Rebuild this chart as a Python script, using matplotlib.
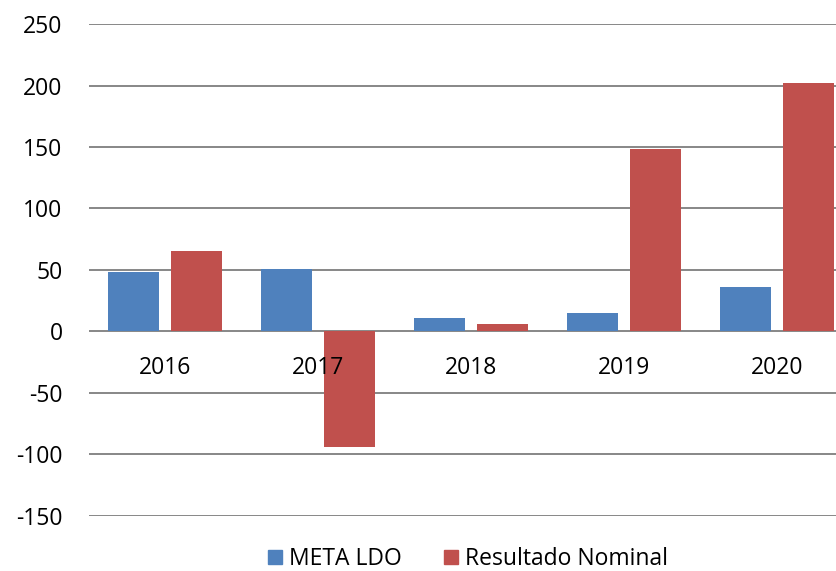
import matplotlib.pyplot as plt
import numpy as np
from matplotlib.patches import Patch

years = ["2016", "2017", "2018", "2019", "2020"]
meta_ldo = [48, 51, 11, 15, 36]
resultado_nominal = [65, -94, 6, 148, 202]

BLUE = "#4F81BD"
RED = "#C0504D"
GRID = "#878787"
FS = 16.5

plt.rcParams["font.family"] = ["Open Sans", "DejaVu Sans"]
plt.rcParams["axes.unicode_minus"] = False

fig = plt.figure(figsize=(8.36, 5.71), dpi=100)
# plot area runs a little past the right edge of the canvas
ax = fig.add_axes([0.106, 0.0968, 0.915, 0.861])

x = np.arange(len(years))
w = 0.333
off = 0.207
ax.bar(x - off, meta_ldo, w, color=BLUE, zorder=3)
ax.bar(x + off, resultado_nominal, w, color=RED, zorder=3)

ax.set_xlim(-0.5, len(years) - 0.5)
ax.set_ylim(-150, 250)
ax.set_yticks(np.arange(-150, 251, 50))
ax.yaxis.grid(True, color=GRID, linewidth=1.4)
ax.yaxis.set_zorder(0.5)
# category labels sit on top of the bars
ax.xaxis.set_zorder(5)

for s in ("top", "right", "left"):
    ax.spines[s].set_visible(False)
ax.spines["bottom"].set_position(("data", 0))
ax.spines["bottom"].set_visible(False)

ax.set_xticks(x)
ax.set_xticklabels(years)
ax.tick_params(axis="x", length=0, pad=18, labelsize=FS)
ax.tick_params(axis="y", length=0, pad=18.7, labelsize=FS)

handles = [Patch(color=BLUE, label="META LDO"),
           Patch(color=RED, label="Resultado Nominal")]
fig.legend(handles=handles, loc="center", bbox_to_anchor=(0.560, 0.021),
           ncol=2, frameon=False, fontsize=FS, handlelength=0.6,
           handleheight=0.6, handletextpad=0.3, columnspacing=1.85,
           borderpad=0)

fig.savefig("out.png", dpi=100)
